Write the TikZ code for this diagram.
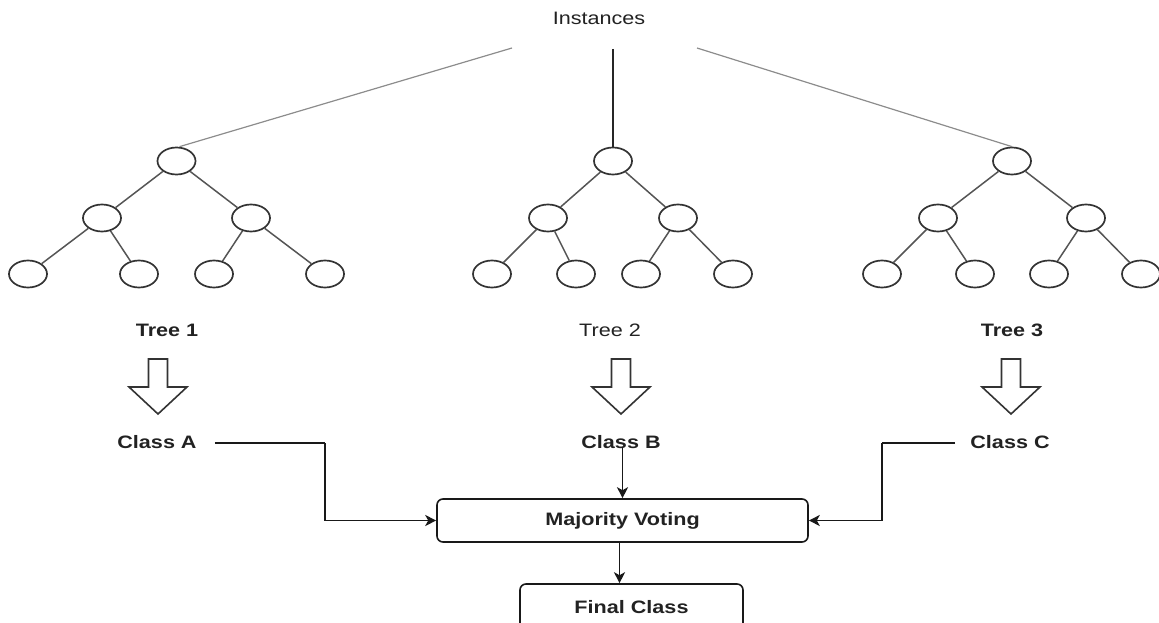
\documentclass[tikz,border=0pt]{standalone}
\usepackage{fontspec}
\setmainfont[FakeStretch=1.2]{Liberation Sans}
\usetikzlibrary{arrows.meta,shapes.geometric}
\definecolor{txt}{HTML}{222222}
\definecolor{edge}{HTML}{555555}
\definecolor{ring}{HTML}{333333}
\begin{document}
\begin{tikzpicture}[x=1pt,y={(0,-1pt)},
  every node/.style={font=\fontsize{18}{21}\selectfont, text=txt},
  leaf/.style={ellipse, draw=ring, line width=1.7pt, minimum width=38pt, minimum height=27pt, inner sep=0pt},
  treeedge/.style={draw=edge, line width=1.5pt},
  rootedge/.style={draw=gray!90, line width=1.2pt},
  lbl/.style={inner sep=2pt},
  boldlbl/.style={inner sep=2pt, font=\fontsize{18}{21}\selectfont\bfseries},
  flow/.style={draw=black!90, line width=1.6pt, -{Stealth[length=11pt,width=11pt,inset=3pt]}},
  flowline/.style={draw=black!90, line width=1.6pt},
  voting/.style={draw=black!90, line width=1.6pt, rounded corners=6pt, minimum height=43pt, inner sep=0pt},
  pics/blockarrow/.style={code={
    \draw[draw=ring, line width=1.6pt, fill=white, line join=miter]
      (-9.5,0) -- (9.5,0) -- (9.5,28) -- (29,28) -- (0,55) -- (-29,28) -- (-9.5,28) -- cycle;}}
]
\useasboundingbox (0,0) rectangle (1159,623);
\clip (0,0) rectangle (1159,623);

% Instances
\node[lbl] (inst) at (599,18) {Instances};
\coordinate (i1) at (512,48);
\coordinate (i2) at (613,49);
\coordinate (i3) at (697,48);

% Tree 1
\node[leaf] (a0) at (176.5,161) {};
\node[leaf] (a1) at (102,218) {};
\node[leaf] (a2) at (251,218) {};
\node[leaf] (a3) at (28,274) {};
\node[leaf] (a4) at (139,274) {};
\node[leaf] (a5) at (214,274) {};
\node[leaf] (a6) at (325,274) {};
% Tree 2
\node[leaf] (b0) at (613,161) {};
\node[leaf] (b1) at (548,218) {};
\node[leaf] (b2) at (678,218) {};
\node[leaf] (b3) at (492,274) {};
\node[leaf] (b4) at (576,274) {};
\node[leaf] (b5) at (641,274) {};
\node[leaf] (b6) at (733,274) {};
% Tree 3
\node[leaf] (c0) at (1012,161) {};
\node[leaf] (c1) at (938,218) {};
\node[leaf] (c2) at (1086,218) {};
\node[leaf] (c3) at (882,274) {};
\node[leaf] (c4) at (975,274) {};
\node[leaf] (c5) at (1049,274) {};
\node[leaf] (c6) at (1141,274) {};

\foreach \t in {a,b,c}{
  \draw[treeedge] (\t0) -- (\t1);
  \draw[treeedge] (\t0) -- (\t2);
  \draw[treeedge] (\t1) -- (\t3);
  \draw[treeedge] (\t1) -- (\t4);
  \draw[treeedge] (\t2) -- (\t5);
  \draw[treeedge] (\t2) -- (\t6);
}

\draw[rootedge] (i1) -- ([xshift=3pt]a0.north);
\draw[draw=black!85, line width=1.8pt] (i2) -- (b0.north);
\draw[rootedge] (i3) -- (c0.north);

% Tree labels
\node[boldlbl] (t1) at (167,330) {Tree 1};
\node[lbl] (t2) at (610,330) {Tree 2};
\node[boldlbl] (t3) at (1012,330) {Tree 3};

% block arrows
\pic at (158,359) {blockarrow};
\pic at (621,359) {blockarrow};
\pic at (1011,359) {blockarrow};

% Classes
\node[boldlbl] (ca) at (157,442) {Class A};
\node[boldlbl] (cb) at (621,442) {Class B};
\node[boldlbl] (cc) at (1010,442) {Class C};

% Majority voting & final
\node[voting, minimum width=371pt, font=\fontsize{18}{21}\selectfont\bfseries] (mv) at (622.5,520.5) {Majority Voting};
\node[voting, minimum width=223pt, minimum height=48pt, font=\fontsize{18}{21}\selectfont\bfseries] (fc) at (631.5,608) {\raisebox{2pt}{Final Class}};

\coordinate (ja) at (325,443);
\coordinate (jc) at (882,443);
\draw[flowline] ([xshift=16pt]ca.east |- ja) -- (ja);
\draw[flow] (ja) |- (mv.west);
\draw[flowline] ([xshift=-13pt]cc.west |- jc) -- (jc);
\draw[flow] (jc) |- (mv.east);
\draw[flow] ([yshift=4pt]cb.south -| mv.north) -- (mv.north);
\draw[flow] ([xshift=-3pt]mv.south) -- ([xshift=-3pt]mv.south |- fc.north);
\end{tikzpicture}
\end{document}
